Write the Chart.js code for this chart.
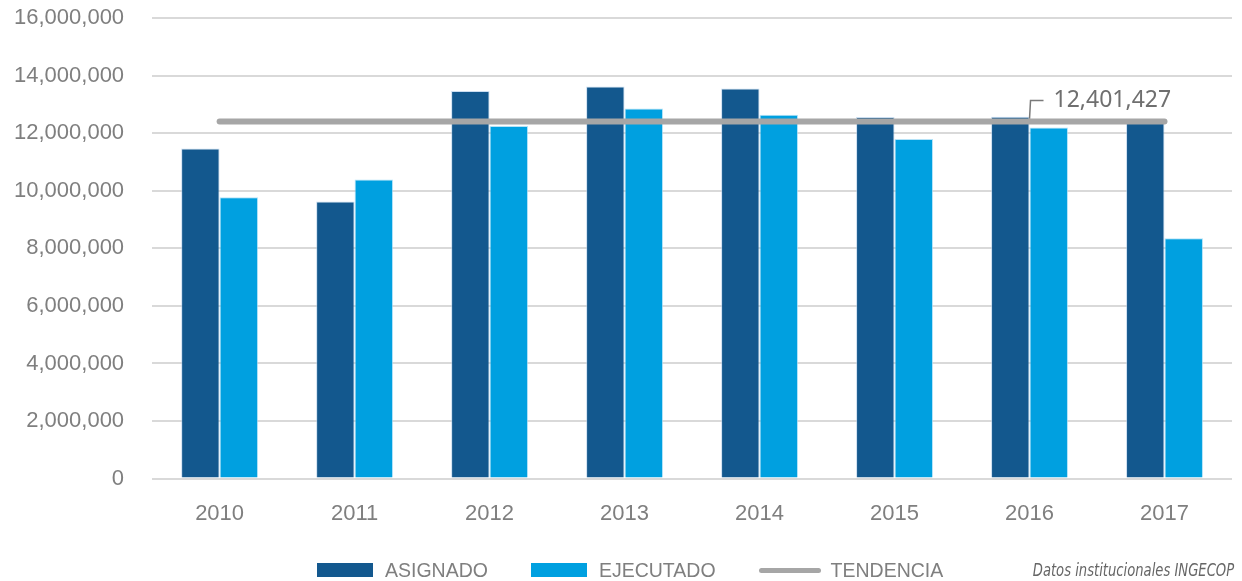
<!DOCTYPE html>
<html>
<head>
<meta charset="utf-8">
<script src="https://cdn.jsdelivr.net/npm/chart.js@4.4.1/dist/chart.umd.min.js"></script>
<style>
  body { margin: 0; background: #fff; }
  #wrap { position: relative; width: 1242px; height: 581px; }
  #legend {
    position: absolute; left: 317px; top: 560px; height: 20px;
    display: flex; align-items: center;
    font-family: "Liberation Sans", Arial, sans-serif; font-size: 19.5px; color: #7f7f7f;
  }
  .item { display: flex; align-items: center; margin-right: 43px; }
  .item .box { width: 56px; height: 14px; margin-right: 12px; }
  .item .ln { width: 62px; height: 5px; border-radius: 3px; margin-right: 10px; }
  #source {
    position: absolute; right: 8px; top: 559px; line-height: 22px;
    font-family: "Liberation Sans Narrow", "DejaVu Sans Condensed", sans-serif;
    font-style: italic; font-size: 17px; color: #666;
    transform: scaleX(0.86); transform-origin: right center;
  }
</style>
</head>
<body>
<div id="wrap">
  <canvas id="myChart"></canvas>
  <div id="legend"></div>
  <div id="source">Datos institucionales INGECOP</div>
</div>
<script>
const years = ['2010', '2011', '2012', '2013', '2014', '2015', '2016', '2017'];
const asignado = [11470000, 9630000, 13460000, 13620000, 13550000, 12560000, 12570000, 12450000];
const ejecutado = [9770000, 10390000, 12250000, 12860000, 12640000, 11800000, 12200000, 8350000];
const tendencia = [12401427, 12401427, 12401427, 12401427, 12401427, 12401427, 12401427, 12401427];
const trendLabelIndex = 6;

const darkBlue = '#13588e';
const lightBlue = '#00a0e0';
const trendGray = '#a6a6a6';
const tickGray = '#7f7f7f';

const fmt = (v) => Number(v).toLocaleString('en-US');

// label with little leader line over the trend
const trendLabel = {
  id: 'trendLabel',
  afterDatasetsDraw(chart) {
    const meta = chart.getDatasetMeta(2);
    const pt = meta.data[trendLabelIndex];
    if (!pt) return;
    const ctx = chart.ctx;
    const x = pt.x, y = pt.y - 3;
    ctx.save();
    ctx.strokeStyle = '#7a7a7a';
    ctx.lineWidth = 1.5;
    ctx.beginPath();
    ctx.moveTo(x, y);
    ctx.lineTo(x + 1, y - 18);
    ctx.lineTo(x + 14, y - 18);
    ctx.stroke();
    ctx.fillStyle = '#6f6f6f';
    ctx.font = '23px "Noto Sans", sans-serif';
    ctx.textBaseline = 'middle';
    ctx.fillText(fmt(tendencia[trendLabelIndex]), x + 24, y - 18);
    ctx.restore();
  }
};

const ctx = document.getElementById('myChart').getContext('2d');
const myChart = new Chart(ctx, {
  type: 'bar',
  data: {
    labels: years,
    datasets: [
      {
        label: 'ASIGNADO',
        data: asignado,
        backgroundColor: darkBlue,
        borderColor: 'rgba(170,200,230,0.6)',
        borderWidth: 1,
        order: 1
      },
      {
        label: 'EJECUTADO',
        data: ejecutado,
        backgroundColor: lightBlue,
        borderColor: 'rgba(150,215,245,0.7)',
        borderWidth: 1,
        order: 1
      },
      {
        type: 'line',
        label: 'TENDENCIA',
        data: tendencia,
        borderColor: trendGray,
        backgroundColor: trendGray,
        borderWidth: 6,
        borderCapStyle: 'round',
        pointRadius: 0,
        order: 0
      }
    ]
  },
  options: {
    responsive: true,
    maintainAspectRatio: false,
    animation: false,
    layout: { padding: { top: 18, left: -14, right: 10, bottom: 40 } },
    datasets: {
      bar: { categoryPercentage: 0.57, barPercentage: 1 }
    },
    plugins: {
      legend: { display: false },
      tooltip: { enabled: false }
    },
    scales: {
      x: {
        grid: { display: false },
        border: { display: false },
        ticks: {
          color: tickGray,
          padding: 14,
          font: { family: '"Liberation Sans", Arial, sans-serif', size: 22 }
        }
      },
      y: {
        min: 0,
        max: 16000000,
        grid: { color: '#d9d9d9', lineWidth: 2, drawTicks: false },
        border: { display: false },
        ticks: {
          stepSize: 2000000,
          color: tickGray,
          padding: 28,
          font: { family: '"Liberation Sans", Arial, sans-serif', size: 22 },
          callback: (v) => fmt(v)
        },
        // tick padding would otherwise push the top down
        afterFit: (s) => { s.paddingTop = 0; s.paddingBottom = 0; }
      }
    }
  },
  plugins: [trendLabel]
});

// html legend, built from the datasets
const legend = document.getElementById('legend');
myChart.data.datasets.forEach((ds) => {
  const item = document.createElement('div');
  item.className = 'item';
  const mark = document.createElement('span');
  mark.className = ds.type === 'line' ? 'ln' : 'box';
  mark.style.background = ds.type === 'line' ? ds.borderColor : ds.backgroundColor;
  const txt = document.createElement('span');
  txt.textContent = ds.label;
  item.appendChild(mark);
  item.appendChild(txt);
  legend.appendChild(item);
});
</script>
</body>
</html>
